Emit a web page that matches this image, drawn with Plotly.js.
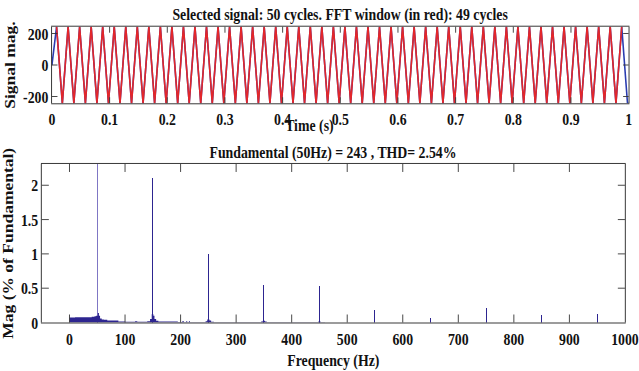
<!DOCTYPE html>
<html>
<head>
<meta charset="utf-8">
<script src="https://cdn.plot.ly/plotly-3.0.1.min.js"></script>
<style>
  html, body { margin: 0; padding: 0; background: #fff; overflow: hidden; }
  #wrap { width: 639px; height: 371px; overflow: hidden; }
  #chart { width: 809px; height: 371px; transform: scaleX(0.78986); transform-origin: 0 0; }
</style>
</head>
<body>
<div id="wrap"><div id="chart"></div></div>
<script>
// ---------- Top: selected signal (peaks) ----------
var signalTime = [0,
  0.008,0.018,0.028,0.038,0.048,0.058,0.068,0.078,0.088,0.098,
  0.108,0.118,0.128,0.138,0.148,0.158,0.168,0.178,0.188,0.198,
  0.208,0.218,0.228,0.238,0.248,0.258,0.268,0.278,0.288,0.298,
  0.308,0.318,0.328,0.338,0.348,0.358,0.368,0.378,0.388,0.398,
  0.408,0.418,0.428,0.438,0.448,0.458,0.468,0.478,0.488,0.498,
  0.508,0.518,0.528,0.538,0.548,0.558,0.568,0.578,0.588,0.598,
  0.608,0.618,0.628,0.638,0.648,0.658,0.668,0.678,0.688,0.698,
  0.708,0.718,0.728,0.738,0.748,0.758,0.768,0.778,0.788,0.798,
  0.808,0.818,0.828,0.838,0.848,0.858,0.868,0.878,0.888,0.898,
  0.908,0.918,0.928,0.938,0.948,0.958,0.968,0.978,0.988,0.998,
  1.0];
var signalMag = [0,
  243,-243,243,-243,243,-243,243,-243,243,-243,
  243,-243,243,-243,243,-243,243,-243,243,-243,
  243,-243,243,-243,243,-243,243,-243,243,-243,
  243,-243,243,-243,243,-243,243,-243,243,-243,
  243,-243,243,-243,243,-243,243,-243,243,-243,
  243,-243,243,-243,243,-243,243,-243,243,-243,
  243,-243,243,-243,243,-243,243,-243,243,-243,
  243,-243,243,-243,243,-243,243,-243,243,-243,
  243,-243,243,-243,243,-243,243,-243,243,-243,
  243,-243,243,-243,243,-243,243,-243,243,-243,
  -238];
// FFT window (49 cycles): from the first peak to the peak at 0.988 s
var fftWindowFirstIndex = [1];
var fftWindowLastIndex = [99];
var fftWindowTime = signalTime.slice(fftWindowFirstIndex[0], fftWindowLastIndex[0] + 1);
var fftWindowMag = signalMag.slice(fftWindowFirstIndex[0], fftWindowLastIndex[0] + 1);

var timeTicks = [0, 0.1, 0.2, 0.3, 0.4, 0.5, 0.6, 0.7, 0.8, 0.9, 1];
var signalTicks = [-200, 0, 200];

// ---------- Bottom: spectrum ----------
// noise floor (step levels)
var floorHz  = [0, 10, 25, 40, 45, 48, 51, 53, 55, 58, 62, 68, 88, 100, 118, 122, 140, 145, 148, 151, 153, 156, 160, 195, 203, 206, 210, 212, 215, 217, 245, 248, 252, 255, 260, 345, 348, 352, 355, 448, 452, 460];
var floorMag = [0.072, 0.075, 0.078, 0.083, 0.09, 0.10, 0.14, 0.10, 0.06, 0.045, 0.04, 0.03, 0.015, 0.01, 0.02, 0.01, 0.02, 0.05, 0.12, 0.10, 0.05, 0.025, 0.015, 0.008, 0.02, 0.005, 0.02, 0.005, 0.02, 0.005, 0.02, 0.045, 0.03, 0.01, 0.005, 0.015, 0.025, 0.015, 0.005, 0.015, 0.005, 0];
// fundamental (100 % by definition, clipped by the axis)
var fundamentalHz = [50];
var fundamentalMag = [100];
// harmonics (% of fundamental)
var harmonicHz  = [150, 250, 350, 450, 550, 650, 750, 850, 950];
var harmonicMag = [2.1, 1.0, 0.55, 0.53, 0.18, 0.065, 0.21, 0.11, 0.125];

var freqTicks = [0, 100, 200, 300, 400, 500, 600, 700, 800, 900, 1000];
var magTicks = [0, 0.5, 1, 1.5, 2];

var FONT = 'Liberation Serif, Times New Roman, serif';
var TXT = '#111111';
var SPEC = '#2d2590';

var traces = [
  { type: 'scatter', mode: 'lines', x: signalTime, y: signalMag, xaxis: 'x', yaxis: 'y',
    line: { color: '#2a3cb0', width: 2 }, hoverinfo: 'skip', name: 'Signal' },
  { type: 'scatter', mode: 'lines', x: fftWindowTime, y: fftWindowMag, xaxis: 'x', yaxis: 'y',
    line: { color: '#e3262a', width: 2 }, hoverinfo: 'skip', name: 'FFT window' },
  { type: 'scatter', mode: 'lines', x: floorHz, y: floorMag, xaxis: 'x2', yaxis: 'y2',
    line: { shape: 'hv', width: 0, color: SPEC }, fill: 'tozeroy', fillcolor: SPEC, hoverinfo: 'skip', name: 'Floor' },
  { type: 'bar', x: fundamentalHz, y: fundamentalMag, xaxis: 'x2', yaxis: 'y2', width: 1.4,
    marker: { color: '#7f76c4', line: { width: 0 } }, hoverinfo: 'skip', name: 'Fundamental' },
  { type: 'bar', x: harmonicHz, y: harmonicMag, xaxis: 'x2', yaxis: 'y2', width: 1.8,
    marker: { color: SPEC, line: { width: 0 } }, hoverinfo: 'skip', name: 'Harmonics' }
];

function ax(extra) {
  var base = {
    showgrid: false, zeroline: false, showline: true, linecolor: '#222', linewidth: 1,
    mirror: 'ticks', ticks: 'inside', tickcolor: '#333', tickwidth: 1,
    tickfont: { family: FONT, size: 17.5, color: TXT, weight: 'bold' },
    fixedrange: true
  };
  for (var k in extra) base[k] = extra[k];
  return base;
}

var layout = {
  width: 809, height: 371,
  margin: { l: 0, r: 0, t: 0, b: 0 },
  paper_bgcolor: '#ffffff', plot_bgcolor: '#ffffff',
  showlegend: false,
  barmode: 'overlay',
  font: { family: FONT, size: 17.5, color: TXT, weight: 'bold' },
  xaxis: ax({ domain: [0.0813, 0.9838], range: [0, 1], anchor: 'y',
    tickmode: 'array', tickvals: timeTicks, ticktext: timeTicks.map(String), ticklen: 6 }),
  yaxis: ax({ domain: [0.7216, 0.928], range: [-243, 243], anchor: 'x',
    tickmode: 'array', tickvals: signalTicks, ticktext: signalTicks.map(String), ticklen: 7,
    title: { text: 'Signal mag.', font: { family: FONT, size: 17.5, color: TXT, weight: 'bold' }, standoff: 4 } }),
  xaxis2: ax({ domain: [0.0653, 0.978], range: [-50, 1000], anchor: 'y2',
    tickmode: 'array', tickvals: freqTicks, ticktext: freqTicks.map(String), ticklen: 8,
    title: { text: 'Frequency (Hz)', font: { family: FONT, size: 17.5, color: TXT, weight: 'bold' }, standoff: 6 } }),
  yaxis2: ax({ domain: [0.1307, 0.558], range: [0, 2.31], anchor: 'x2',
    tickmode: 'array', tickvals: magTicks, ticktext: magTicks.map(String), ticklen: 9,
    title: { text: 'Mag (% of Fundamental)', font: { family: FONT, size: 17.5, color: TXT, weight: 'bold' }, standoff: 4 } }),
  bargap: 0,
  annotations: [
    { text: 'Selected signal: 50 cycles. FFT window (in red): 49 cycles', xref: 'paper', yref: 'paper',
      x: 0.532, y: 0.962, xanchor: 'center', yanchor: 'middle', showarrow: false,
      font: { family: FONT, size: 17.5, color: TXT, weight: 'bold' } },
    { text: 'Time (s)', xref: 'paper', yref: 'paper',
      x: 0.485, y: 0.662, xanchor: 'center', yanchor: 'middle', showarrow: false,
      font: { family: FONT, size: 17.5, color: TXT, weight: 'bold' } },
    { text: 'Fundamental (50Hz) = 243 , THD= 2.54%', xref: 'paper', yref: 'paper',
      x: 0.521, y: 0.589, xanchor: 'center', yanchor: 'middle', showarrow: false,
      font: { family: FONT, size: 17.5, color: TXT, weight: 'bold' } }
  ]
};

Plotly.newPlot('chart', traces, layout, { staticPlot: true, displayModeBar: false });
</script>
</body>
</html>
